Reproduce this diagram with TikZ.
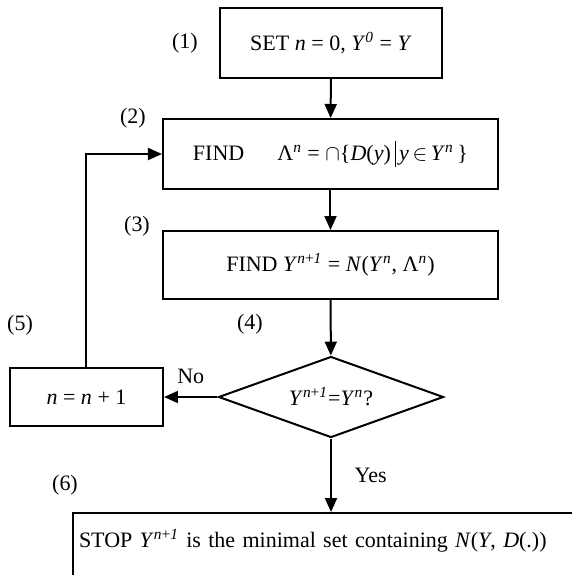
\documentclass[tikz,border=0pt]{standalone}
\usepackage{fontspec}
\setmainfont{Liberation Serif}
\usetikzlibrary{shapes.geometric,arrows.meta}
\newcommand{\vr}[1]{\textit{#1}}
\newcommand{\sps}[1]{\textsuperscript{#1}}
\newcommand{\tallbar}{\,\rule[-3.5pt]{0.5pt}{13pt}\,}
\tikzset{
  stepbox/.style={draw, line width=1pt, minimum width=167.5pt, minimum height=35pt, inner sep=2pt},
  decision/.style={draw, line width=1pt, diamond, aspect=2.78, inner sep=0pt, minimum width=112.5pt, minimum height=40.5pt},
  tag/.style={inner sep=1pt}
}
\begin{document}
\begin{tikzpicture}[x=0.5pt,y=-0.5pt,line width=1pt,font=\fontsize{11}{13}\selectfont,>={Triangle[length=7pt,width=6pt]}]
        \path[use as bounding box, clip] (0,0) rectangle (572,575);
        % boxes
        \node[stepbox, minimum width=111pt] (init) at (331,43) {SET \vr{n} = 0, \vr{Y}\sps{\vr{0}} = \vr{Y}};
        \node[stepbox] (lambda) at (330.5,154) {FIND\quad\ \ Λ\sps{\vr{n}} = $\cap$\{\vr{D}(\vr{y})\tallbar\vr{y}\,$\in$\,\vr{Y}\sps{\vr{n}}\,\}};
        \node[stepbox, minimum height=34pt] (newy) at (330.5,265) {FIND \vr{Y}\sps{\vr{n}+\vr{1}} = \vr{N}(\vr{Y}\sps{\vr{n}}, Λ\sps{\vr{n}})};
        \node[decision] (test) at (331,397) {\vr{Y}\sps{\vr{n}+\vr{1}}=\vr{Y}\sps{\vr{n}}?};
        \node[stepbox, minimum width=76.5pt, minimum height=29pt] (inc) at (86.5,397) {\vr{n} = \vr{n} + 1};
        \node[draw, anchor=north west, inner xsep=3pt, inner ysep=8pt, text height=9pt, text depth=20pt, text width=300pt, align=left] (stop) at (72,512) {STOP \vr{Y}\sps{\vr{n}+\vr{1}} is the minimal set containing \vr{N}(\vr{Y}, \vr{D}(.))};
        % step numbers
        \node[tag] (l1) at (185,43) {(1)};
        \node[tag] (l2) at (133,118) {(2)};
        \node[tag] (l3) at (137,226) {(3)};
        \node[tag] (l4) at (250,324) {(4)};
        \node[tag] (l5) at (20,325) {(5)};
        \node[tag] (l6) at (65,485) {(6)};
        % connectors
        \draw[->] (init) -- (lambda);
        \draw[->] (lambda) -- (newy);
        \draw[->] (newy) -- (test);
        \draw[->] (test) -- node[above=3pt] {No} (inc);
        \draw[->] (test.south) -- node[right=8pt] {Yes} (test.south |- stop.north);
        \draw[->] (inc.north) |- (lambda.west);
\end{tikzpicture}
\end{document}
